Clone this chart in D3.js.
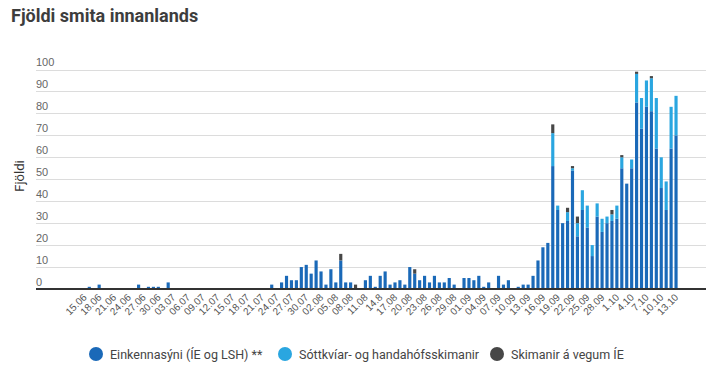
<!DOCTYPE html>
<html lang="is">
<head>
<meta charset="UTF-8">
<title>Fjöldi smita innanlands</title>
<style>
  body { margin: 0; background: #fff; font-family: Roboto, 'Open Sans', sans-serif; }
  svg { display: block; }
  .title { font-size: 18px; font-weight: 700; fill: #3d3d3d; }
  .grid line { stroke: #dcdcdc; stroke-width: 1; shape-rendering: crispEdges; }
  .grid text { font-size: 11px; fill: #666; }
  .xaxis text { font-size: 10px; fill: #555; }
  .ylabel { font-size: 13px; fill: #333; }
  .legend text { font-size: 12.5px; fill: #444; }
</style>
</head>
<body>
<svg id="chart" width="713" height="367"></svg>
<script src="https://d3js.org/d3.v7.min.js"></script>
<script>
// one category per day, 15.06 - 13.10
const days = d3.timeDay.range(new Date(2020, 5, 15), new Date(2020, 9, 14));

const tickLabels = ['15.06','18.06','21.06','24.06','27.06','30.06','03.07','06.07','09.07','12.07',
  '15.07','18.07','21.07','24.07','27.07','30.07','02.08','05.08','08.08','11.08','14.8','17.08',
  '20.08','23.08','26.08','29.08','01.09','04.09','07.09','10.09','13.09','16.09','19.09','22.09',
  '25.09','28.09','1.10','4.10','7.10','10.10','13.10'];

const yTicks = [0, 10, 20, 30, 40, 50, 60, 70, 80, 90, 100];

const seriesNames = ['Einkennasýni (ÍE og LSH) **', 'Sóttkvíar- og handahófsskimanir', 'Skimanir á vegum ÍE'];
const seriesColors = ['#1a69b8', '#2aa6e0', '#474747'];

const einkenna = [
  0,1,0,2,0,0,0,0,0,0,
  0,2,0,1,1,1,0,3,0,0,
  0,0,0,0,0,0,0,0,0,0,
  0,0,0,0,0,0,0,0,2,0,
  3,6,4,4,10,11,7,13,8,2,
  9,3,13,3,3,0,0,4,6,1,
  6,8,2,3,4,2,10,7,4,6,
  3,6,3,3,5,2,0,5,5,4,
  6,1,3,0,6,2,4,0,1,2,
  2,6,13,19,21,56,36,30,31,54,
  24,36,28,15,33,26,30,31,32,55,
  48,55,85,73,83,81,64,46,36,64,70
];

const sottkvi = [
  0,0,0,0,0,0,0,0,0,0,
  0,0,0,0,0,0,0,0,0,0,
  0,0,0,0,0,0,0,0,0,0,
  0,0,0,0,0,0,0,0,0,0,
  0,0,0,0,0,0,0,0,0,0,
  0,0,0,0,0,0,0,0,0,0,
  0,0,0,0,0,0,0,0,0,0,
  0,0,0,0,0,0,0,0,0,0,
  0,0,0,0,0,0,0,0,0,0,
  0,0,0,0,0,15,2,0,4,1,
  6,9,10,5,6,6,3,3,6,5,
  0,4,13,14,12,15,23,14,13,19,18
];

const skimanirIE = [
  0,0,0,0,0,0,0,0,0,0,
  0,0,0,0,0,0,0,0,0,0,
  0,0,0,0,0,0,0,0,0,0,
  0,0,0,0,0,0,0,0,0,0,
  0,0,0,0,0,0,0,0,0,0,
  0,0,3,0,0,2,0,0,0,0,
  0,0,0,0,0,0,0,2,0,0,
  0,0,0,0,0,0,0,0,0,0,
  0,0,0,0,0,0,0,0,0,0,
  0,0,0,0,0,4,0,0,2,1,
  3,0,0,0,0,0,0,2,0,1,
  0,0,1,0,0,1,0,0,0,0,0
];

const svg = d3.select('#chart');

// titill
svg.append('text').attr('class', 'title')
  .attr('x', 11).attr('y', 22)
  .text('Fjöldi smita innanlands');

const rows = days.map((d, i) => ({ date: d, a: einkenna[i], b: sottkvi[i], c: skimanirIE[i] }));
const keys = ['a', 'b', 'c'];
const stacked = d3.stack().keys(keys)(rows);

const x = d3.scaleBand()
  .domain(days)
  .range([81.9, 678.5])
  .paddingInner(0.36)
  .paddingOuter(0.18);

const y = d3.scaleLinear().domain([0, 100]).range([289, 69.5]);

// gridlines + y labels
const grid = svg.append('g').attr('class', 'grid').attr('transform', 'translate(36,0)')
  .call(d3.axisRight(y).tickValues(yTicks).tickSize(670).tickFormat(d3.format('d')));
grid.select('.domain').remove();
grid.selectAll('text').attr('x', 0).attr('dy', -4).attr('text-anchor', 'start');

// bars
svg.append('g').selectAll('g')
  .data(stacked)
  .join('g')
  .attr('fill', (d, i) => seriesColors[i])
  .selectAll('rect')
  .data(d => d)
  .join('rect')
  .attr('x', d => x(d.data.date))
  .attr('width', x.bandwidth())
  .attr('y', d => y(d[1]))
  .attr('height', d => y(d[0]) - y(d[1]));

// baseline
svg.append('line')
  .attr('x1', 36).attr('x2', 706)
  .attr('y1', y(0)).attr('y2', y(0))
  .attr('stroke', '#333').attr('stroke-width', 2);

// x axis
const tickDays = days.filter((d, i) => i % 3 === 0);
const xAxis = svg.append('g').attr('class', 'xaxis').attr('transform', `translate(0,${y(0)})`)
  .call(d3.axisBottom(x).tickValues(tickDays).tickSize(0).tickFormat((d, i) => tickLabels[i]));
xAxis.select('.domain').remove();
xAxis.selectAll('text')
  .attr('y', 0).attr('dy', 0)
  .attr('text-anchor', 'end')
  .attr('transform', 'translate(3,9) rotate(-45)');

// y axis title
svg.append('text').attr('class', 'ylabel')
  .attr('transform', 'translate(24,176) rotate(-90)')
  .attr('text-anchor', 'middle')
  .text('Fjöldi');

// legend
const legendX = [96, 285, 497];
const legend = svg.append('g').attr('class', 'legend');
seriesNames.forEach((name, i) => {
  legend.append('circle').attr('cx', legendX[i]).attr('cy', 354).attr('r', 7).attr('fill', seriesColors[i]);
  legend.append('text').attr('x', legendX[i] + 14).attr('y', 358.5).text(name);
});
</script>
</body>
</html>
